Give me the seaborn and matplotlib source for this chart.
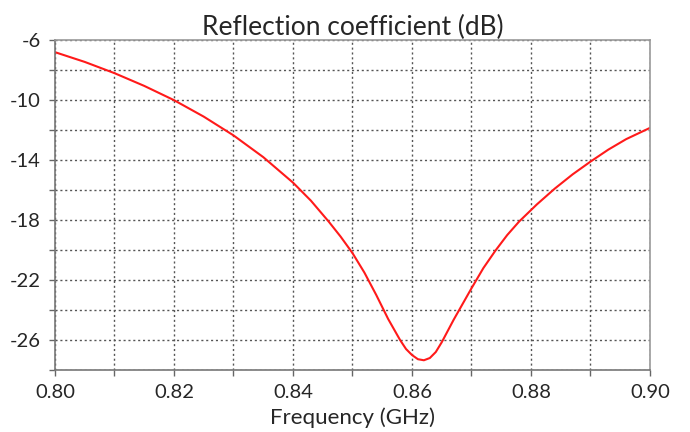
import numpy as np
import pandas as pd
import matplotlib
matplotlib.use("Agg")
import matplotlib.pyplot as plt
import seaborn as sns

# Values
freq_ghz = [0.800, 0.805, 0.810, 0.815, 0.820, 0.825, 0.830, 0.835, 0.840, 0.843,
            0.846, 0.848, 0.850, 0.852, 0.854, 0.856, 0.857, 0.858, 0.859, 0.860,
            0.861, 0.862, 0.863, 0.864, 0.865, 0.866, 0.867, 0.868, 0.869, 0.870,
            0.872, 0.874, 0.876, 0.878, 0.881, 0.884, 0.887, 0.890, 0.893, 0.896,
            0.900]
refl_db = [-6.8, -7.45, -8.2, -9.05, -10.0, -11.1, -12.35, -13.8, -15.5, -16.7,
           -18.1, -19.1, -20.2, -21.5, -23.0, -24.6, -25.3, -26.0, -26.6, -27.0,
           -27.28, -27.35, -27.2, -26.8, -26.15, -25.4, -24.65, -23.95, -23.25, -22.55,
           -21.2, -20.05, -19.0, -18.1, -16.95, -15.9, -14.95, -14.1, -13.3, -12.6,
           -11.85]

x_ticks = [0.80, 0.82, 0.84, 0.86, 0.88, 0.90]
y_ticks = [-26, -22, -18, -14, -10, -6]

df = pd.DataFrame({"freq": freq_ghz, "db": refl_db})

sns.set_style("white")
plt.rcParams['font.family'] = ['Lato', 'DejaVu Sans']

fig = plt.figure(figsize=(6.9, 4.32), dpi=100)
ax = fig.add_axes([0.0797, 0.1435, 0.8623, 0.7635])

sns.lineplot(data=df, x="freq", y="db", color="#ff1a1a", linewidth=1.5, ax=ax)

ax.set_xlim(0.80, 0.90)
ax.set_ylim(-28, -6)
ax.set_xticks(x_ticks)
ax.set_xticklabels([f"{t:.2f}" for t in x_ticks])
ax.set_xticks(np.arange(0.81, 0.90, 0.02), minor=True)
ax.set_yticks(y_ticks)
ax.set_yticklabels([str(t) for t in y_ticks])
ax.set_yticks(np.arange(-28, -6, 4), minor=True)

ax.grid(True, which="both", linestyle=(0, (1.5, 2)), color="#555555", linewidth=1)
ax.tick_params(axis="both", which="both", direction="out", length=4, width=1,
               color="#666666", labelsize=14.5, pad=6, left=True, bottom=True)

for side in ["top", "right"]:
    ax.spines[side].set_color("#999999")
for side in ["left", "bottom"]:
    ax.spines[side].set_color("#777777")
for s in ax.spines.values():
    s.set_linewidth(1.2)

ax.set_title("Reflection coefficient (dB)", fontsize=19, pad=4)
ax.set_xlabel("Frequency (GHz)", fontsize=16, labelpad=5)
ax.set_ylabel("")

fig.savefig("out.png", dpi=100)
